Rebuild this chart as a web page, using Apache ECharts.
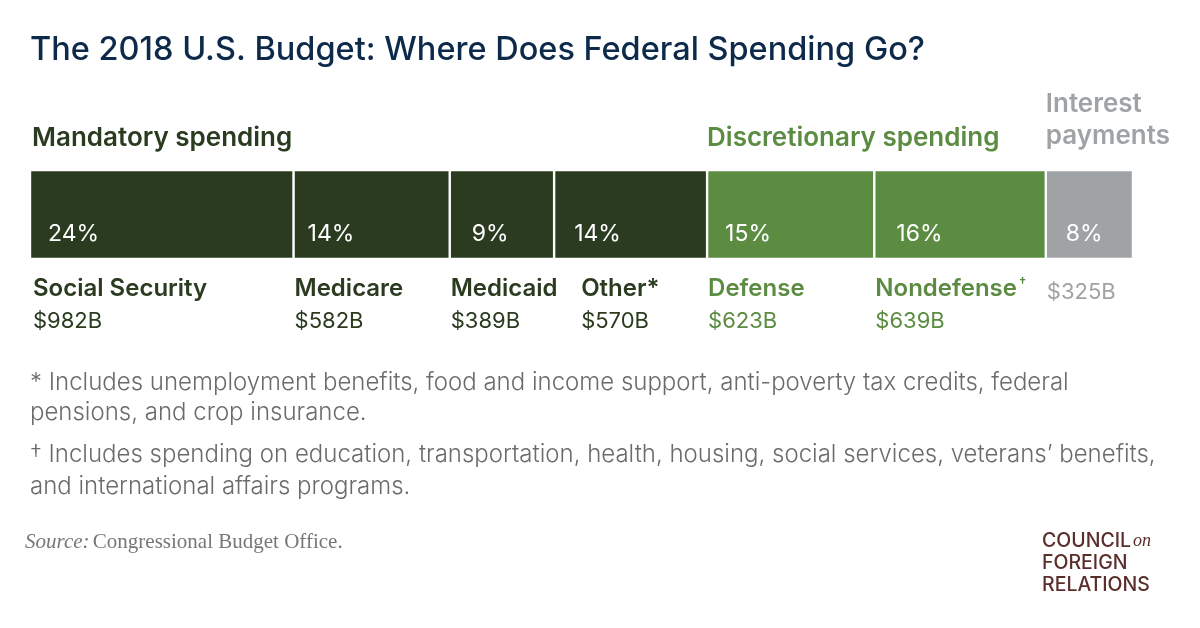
<!DOCTYPE html>
<html>
<head>
<meta charset="utf-8">
<script src="https://cdn.jsdelivr.net/npm/echarts@6/dist/echarts.min.js"></script>
<style>
html,body{margin:0;padding:0;background:#fff;}
#chart{width:1200px;height:628px;}
</style>
</head>
<body>
<div id="chart"></div>
<script>
// ---- data ----
const categories = ['Social Security', 'Medicare', 'Medicaid', 'Other*', 'Defense', 'Nondefense', ''];
const amounts = [982, 582, 389, 570, 623, 639, 325];          // $ billions
const percents = [24, 14, 9, 14, 15, 16, 8];
const groups = ['mandatory', 'mandatory', 'mandatory', 'mandatory', 'discretionary', 'discretionary', 'interest'];
const groupTitles = { mandatory: ['Mandatory spending'], discretionary: ['Discretionary spending'], interest: ['Interest', 'payments'] };
const titleText = 'The 2018 U.S. Budget: Where Does Federal Spending Go?';
const notes = [
  '* Includes unemployment benefits, food and income support, anti-poverty tax credits, federal',
  'pensions, and crop insurance.',
  '\u2020 Includes spending on education, transportation, health, housing, social services, veterans\u2019 benefits,',
  'and international affairs programs.'
];

// ---- styles / layout ----
const groupColors = { mandatory: '#2a3b20', discretionary: '#5b8c42', interest: '#a0a3a5' };
const pctOffsets = [18, 14, 22, 20, 18, 22, 20];
const nameOffsets = [3, 1, 1, 27, 1, 1, 1];
const SANS = 'Inter, "Noto Sans", sans-serif';

const total = amounts.reduce((a, b) => a + b, 0);
const chart = echarts.init(document.getElementById('chart'), null, { renderer: 'canvas' });

const series = amounts.map((v, i) => ({
  type: 'bar',
  stack: 'all',
  name: categories[i] || 'Interest',
  data: [v],
  barWidth: '100%',
  itemStyle: { color: groupColors[groups[i]], borderColor: '#ffffff', borderWidth: 1.2 },
  label: {
    show: true,
    position: [pctOffsets[i], 64],
    verticalAlign: 'middle',
    align: 'left',
    formatter: percents[i] + '%',
    color: '#ffffff',
    fontFamily: SANS,
    fontSize: 23,
    fontWeight: 400
  },
  emphasis: { disabled: true },
  silent: true
}));

chart.setOption({
  animation: false,
  grid: { left: 30, right: 67, top: 170, height: 89 },
  xAxis: { type: 'value', min: 0, max: total, show: false },
  yAxis: { type: 'category', data: ['Budget'], show: false },
  series: series
});

// positions via the library's scale
const starts = [];
let acc = 0;
amounts.forEach(v => { starts.push(chart.convertToPixel({ xAxisIndex: 0 }, acc)); acc += v; });

const graphics = [];
graphics.push({
  type: 'text', x: 30, y: 50,
  style: { text: titleText, fill: '#0d2a4b', font: '500 32.5px ' + SANS, verticalAlign: 'middle' }
});

// group headers
const seen = {};
groups.forEach((g, i) => {
  if (seen[g]) return;
  seen[g] = true;
  const lines = groupTitles[g];
  const x = starts[i] + (g === 'mandatory' ? 2 : 0);
  lines.forEach((ln, k) => {
    const cy = lines.length === 1 ? 138 : 104 + k * 32;
    graphics.push({
      type: 'text', x: x, y: cy,
      style: { text: ln, fill: groupColors[g], font: '600 26px ' + SANS, verticalAlign: 'middle' }
    });
  });
});

// category names and values
categories.forEach((c, i) => {
  const x = starts[i] + nameOffsets[i];
  const col = groupColors[groups[i]];
  if (c) {
    if (c === 'Nondefense') {
      graphics.push({
        type: 'text', x: x, y: 289,
        style: {
          text: '{n|Nondefense}{s|\u2020}', verticalAlign: 'middle',
          rich: {
            n: { fill: col, font: '600 24px ' + SANS },
            s: { fill: col, font: '600 13px ' + SANS, verticalAlign: 'top', padding: [0, 0, 10, 2] }
          }
        }
      });
    } else {
      graphics.push({
        type: 'text', x: x, y: 289,
        style: { text: c, fill: col, font: '600 24px ' + SANS, verticalAlign: 'middle' }
      });
    }
  }
  graphics.push({
    type: 'text', x: x, y: c ? 321 : 292,
    style: { text: '$' + amounts[i] + 'B', fill: col, font: '400 22px ' + SANS, verticalAlign: 'middle' }
  });
});

// footnotes
const noteY = [383, 413, 455, 487];
notes.forEach((t, i) => {
  graphics.push({
    type: 'text', x: 30, y: noteY[i],
    style: { text: t, fill: '#6b6b6b', font: '300 24px ' + SANS, verticalAlign: 'middle' }
  });
});

// source
graphics.push({
  type: 'text', x: 25, y: 542,
  style: {
    text: '{i|Source:} {r|Congressional Budget Office.}', verticalAlign: 'middle',
    rich: {
      i: { fill: '#777777', font: 'italic 21px "Liberation Serif", serif' },
      r: { fill: '#777777', font: '21px "Liberation Serif", serif' }
    }
  }
});

// logo
const logoCol = '#5a2e2a';
graphics.push({
  type: 'text', x: 1042, y: 541,
  style: {
    text: '{a|COUNCIL}{b|on}', verticalAlign: 'middle',
    rich: {
      a: { fill: logoCol, font: '500 19.5px ' + SANS },
      b: { fill: logoCol, font: 'italic 18px "Liberation Serif", serif', padding: [0, 0, 0, 2] }
    }
  }
});
graphics.push({ type: 'text', x: 1042, y: 563, style: { text: 'FOREIGN', fill: logoCol, font: '500 19.5px ' + SANS, verticalAlign: 'middle' } });
graphics.push({ type: 'text', x: 1042, y: 585, style: { text: 'RELATIONS', fill: logoCol, font: '500 19.5px ' + SANS, verticalAlign: 'middle' } });

chart.setOption({ graphic: graphics });
</script>
</body>
</html>
